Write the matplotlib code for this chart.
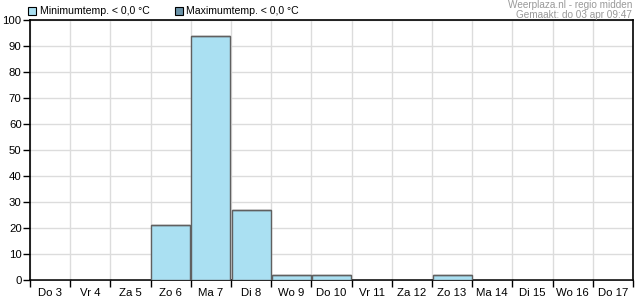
import matplotlib.pyplot as plt
import numpy as np

days = ["Do 3", "Vr 4", "Za 5", "Zo 6", "Ma 7", "Di 8", "Wo 9", "Do 10",
        "Vr 11", "Za 12", "Zo 13", "Ma 14", "Di 15", "Wo 16", "Do 17"]
min_below_zero = [0, 0, 0, 21, 94, 27, 2, 2, 0, 0, 2, 0, 0, 0, 0]
max_below_zero = [0, 0, 0, 0, 0, 0, 0, 0, 0, 0, 0, 0, 0, 0, 0]

min_color = "#aae0f2"
max_color = "#6a93a8"

plt.rcParams["font.family"] = ["Liberation Sans", "DejaVu Sans"]

fig = plt.figure(figsize=(6.35, 3.0), dpi=100)
ax = fig.add_axes([30 / 635, 20 / 300, 603 / 635, 260 / 300])

x = np.arange(len(days))
ax.bar(x, min_below_zero, width=0.97, color=min_color, edgecolor="#606060",
       linewidth=1.0, zorder=3)
ax.bar(x, max_below_zero, width=0.97, bottom=min_below_zero, color=max_color,
       edgecolor="#606060", linewidth=1.0, zorder=3)

ax.set_xlim(-0.5, len(days) - 0.5)
ax.set_ylim(0, 100)
ax.set_yticks(range(0, 101, 10))

# ticks and grid on day boundaries, labels in the middle
ax.set_xticks(np.arange(-0.5, len(days)), minor=False)
ax.set_xticklabels([])
ax.set_xticks(x, minor=True)
ax.set_xticklabels(days, minor=True)
ax.tick_params(axis="x", which="minor", length=0, pad=6, labelsize=8.2)
ax.tick_params(axis="x", which="major", length=5, width=1, direction="out")
ax.tick_params(axis="y", length=5, width=1, pad=1, labelsize=8.2)

ax.grid(True, which="major", color="#dcdcdc", linewidth=1, zorder=0)
ax.set_axisbelow(True)
for s in ax.spines.values():
    s.set_color("black")
    s.set_linewidth(1.2)

# legend
fig.patches.append(plt.Rectangle((28 / 635, 1 - 15 / 300), 8 / 635, 8 / 300,
                                 transform=fig.transFigure, facecolor=min_color,
                                 edgecolor="black", linewidth=0.8))
fig.text(40 / 635, 1 - 11 / 300, "Minimumtemp. < 0,0 °C", fontsize=7.6,
         va="center", ha="left")
fig.patches.append(plt.Rectangle((175 / 635, 1 - 15 / 300), 8 / 635, 8 / 300,
                                 transform=fig.transFigure, facecolor=max_color,
                                 edgecolor="black", linewidth=0.8))
fig.text(186 / 635, 1 - 11 / 300, "Maximumtemp. < 0,0 °C", fontsize=7.6,
         va="center", ha="left")

fig.text(632 / 635, 1 - 5 / 300, "Weerplaza.nl - regio midden", fontsize=7.2,
         color="#999999", ha="right", va="center")
fig.text(632 / 635, 1 - 15.5 / 300, "Gemaakt: do 03 apr 09:47", fontsize=7.2,
         color="#999999", ha="right", va="center")

fig.savefig("out.png", dpi=100)
